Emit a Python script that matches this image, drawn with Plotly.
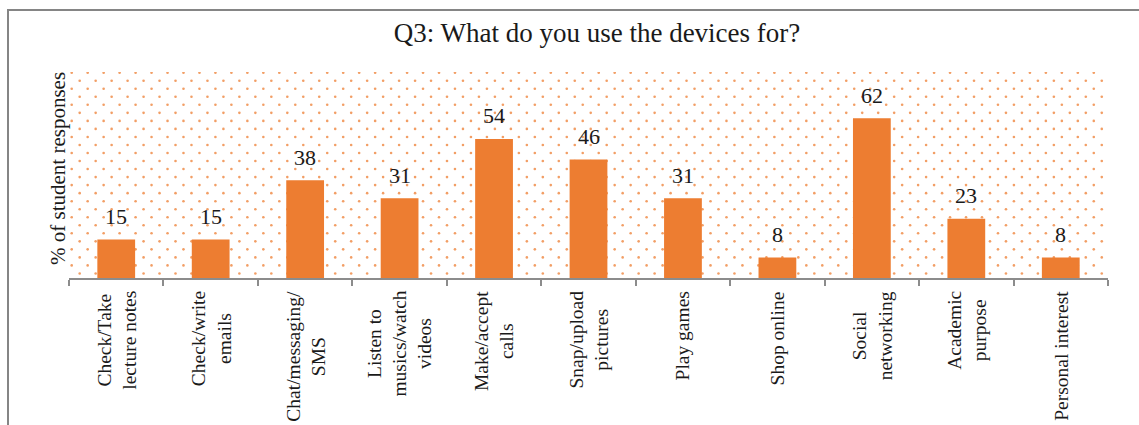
import numpy as np
import plotly.graph_objects as go

# Survey data
categories = [
    "Check/Take<br>lecture notes",
    "Check/write<br>emails",
    "Chat/messaging/<br>SMS",
    "Listen to<br>musics/watch<br>videos",
    "Make/accept<br>calls",
    "Snap/upload<br>pictures",
    "Play games",
    "Shop online",
    "Social<br>networking",
    "Academic<br>purpose",
    "Personal interest",
]
responses = [15, 15, 38, 31, 54, 46, 31, 8, 62, 23, 8]

title_text = "Q3: What do you use the devices for?"
y_title = "% of student responses"

# Figure geometry (pixels)
W, H = 1139, 425
ML, MR, MT, MB = 69, 31, 72, 147
PW, PH = W - ML - MR, H - MT - MB

ORANGE = "#ED7D31"
FONT = "Liberation Serif"
TEXT = "#1a1a1a"

fig = go.Figure()

# Dotted background texture, laid out in pixel units on the base axes
dot_dx, dot_dy = 15.97, 8.03
dx_list, dy_list = [], []
for j in range(int(PH / dot_dy) + 1):
    yy = 0.7 + j * dot_dy
    if yy > PH - 2:
        break
    xx = np.arange(2.7 + (dot_dx / 2) * (j % 2), PW - 3, dot_dx)
    dx_list.extend(xx.tolist())
    dy_list.extend([yy] * len(xx))

fig.add_trace(go.Scatter(
    x=dx_list, y=dy_list, mode="markers",
    marker=dict(size=2.6, color=ORANGE, opacity=0.75, line=dict(width=0)),
    hoverinfo="skip", showlegend=False, xaxis="x", yaxis="y",
))

# Bars on overlaying axes so they sit above the texture
fig.add_trace(go.Bar(
    x=list(range(len(categories))), y=responses,
    marker=dict(color=ORANGE, line=dict(width=0)),
    showlegend=False, xaxis="x2", yaxis="y2",
))

annotations = []
# Value labels
for i, v in enumerate(responses):
    annotations.append(dict(
        x=i, y=v, xref="x2", yref="y2", text=str(v), showarrow=False,
        yanchor="middle", yshift=23, font=dict(family=FONT, size=22, color=TEXT),
    ))
# Category labels, rotated, lines centred on each other
for i, c in enumerate(categories):
    annotations.append(dict(
        x=i, y=0, xref="x2", yref="paper", text=c, showarrow=False,
        textangle=-90, align="center", xanchor="center", yanchor="top",
        yshift=-11, font=dict(family=FONT, size=19.5, color=TEXT),
    ))
# Y axis title
annotations.append(dict(
    x=0, y=0.5, xref="paper", yref="paper", text=y_title, showarrow=False,
    textangle=-90, xanchor="center", yanchor="middle", xshift=-11, yshift=6,
    font=dict(family=FONT, size=21, color=TEXT),
))

# Outer frame of the chart object
frame = dict(
    type="rect", xref="paper", yref="paper",
    x0=(8 - ML) / PW, x1=(W + 20 - ML) / PW,
    y0=-(H + 20 - (MT + PH)) / PH, y1=(MT + PH - 10) / PH,
    line=dict(color="#858585", width=2), fillcolor="rgba(0,0,0,0)", layer="below",
)

fig.update_layout(
    width=W, height=H,
    margin=dict(l=ML, r=MR, t=MT, b=MB, pad=0),
    paper_bgcolor="white", plot_bgcolor="white",
    title=dict(
        text=title_text, x=597 / W, xanchor="center", xref="container",
        y=1 - 33 / H, yanchor="middle", yref="container",
        font=dict(family=FONT, size=27, color=TEXT),
    ),
    xaxis=dict(range=[0, PW], visible=False, fixedrange=True),
    yaxis=dict(range=[PH, 0], visible=False, fixedrange=True),
    xaxis2=dict(
        overlaying="x", anchor="y2", range=[-0.5, len(categories) - 0.5],
        showgrid=False, zeroline=False, showticklabels=False,
        showline=True, linecolor="#8c8c8c", linewidth=2,
        ticks="outside", ticklen=6, tickwidth=2, tickcolor="#8c8c8c",
        tickvals=[k - 0.5 for k in range(len(categories) + 1)],
    ),
    yaxis2=dict(
        overlaying="y", anchor="x2", range=[0, 80],
        showgrid=False, zeroline=False, showticklabels=False, showline=False,
    ),
    bargap=0.6,
    annotations=annotations,
    shapes=[frame],
)

fig.write_html("out.html")
